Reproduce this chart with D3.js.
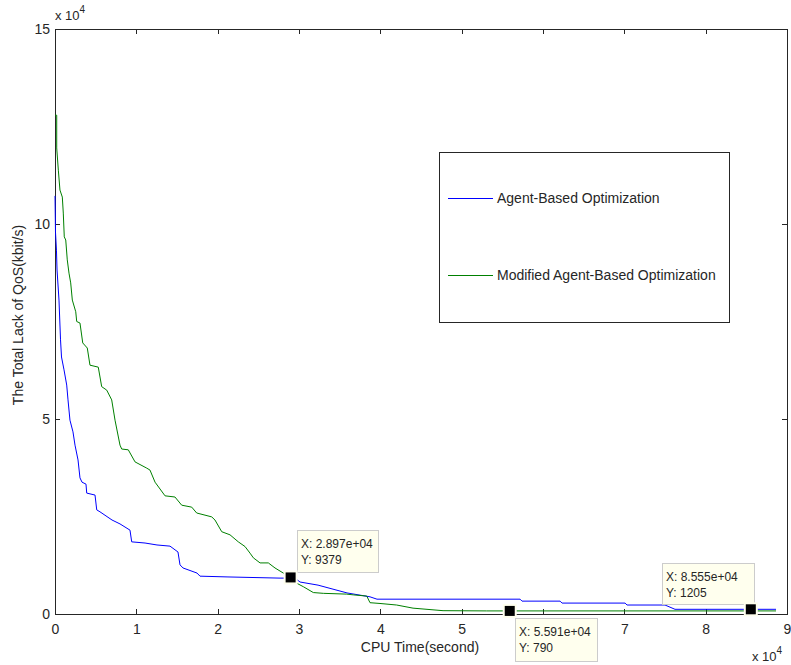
<!DOCTYPE html>
<html><head><meta charset="utf-8">
<script src="https://cdn.jsdelivr.net/npm/d3@7"></script>
<style>body{margin:0;background:#fff}svg{display:block;font-family:"Liberation Sans",Arial,sans-serif}</style>
</head><body><svg id="c" width="791" height="665"></svg>
<script>
// values in units of 1e4
const xTicks = [0,1,2,3,4,5,6,7,8,9];
const xTickLabels = ["0","1","2","3","4","5","","7","8","9"]; // "6" is hidden under a data tip in the original
const yTicks = [0,5,10,15];
const seriesNames = ["Agent-Based Optimization","Modified Agent-Based Optimization"];
const blueX = [0,0.006,0.018,0.025,0.049,0.068,0.080,0.111,0.144,0.160,0.184,0.221,0.246,0.283,0.307,0.332,0.381,0.390,0.492,0.513,0.553,0.701,0.799,0.922,0.943,1.107,1.254,1.414,1.512,1.537,1.574,1.746,1.783,2.127,2.767,2.951,3.013,3.234,3.591,3.873,3.959,5.718,5.742,6.210,6.234,7.009,7.033,7.500,7.623,8.865];
const blueY = [10.72,9.79,9.33,8.82,8.05,7.03,6.59,6.26,5.87,5.49,4.97,4.67,4.33,3.95,3.49,3.38,3.33,3.10,3.05,2.67,2.62,2.41,2.31,2.15,1.85,1.82,1.77,1.74,1.59,1.26,1.18,1.05,0.97,0.95,0.92,0.92,0.82,0.74,0.54,0.44,0.38,0.38,0.33,0.33,0.28,0.28,0.23,0.23,0.1205,0.1205];
const greenX = [0,0.021,0.021,0.041,0.061,0.090,0.102,0.114,0.132,0.151,0.172,0.193,0.213,0.255,0.267,0.307,0.341,0.397,0.430,0.532,0.574,0.636,0.697,0.738,0.799,0.820,0.901,0.984,1.128,1.168,1.230,1.353,1.475,1.558,1.681,1.742,1.927,1.967,2.050,2.152,2.254,2.336,2.398,2.439,2.521,2.623,2.705,2.807,2.897,2.972,3.053,3.176,3.299,3.587,3.668,3.833,3.873,3.996,4.201,4.402,4.771,5.308,5.591,8.865];
const greenY = [12.79,12.79,11.95,11.38,10.87,10.69,10.28,9.67,9.59,9.08,8.74,8.49,8.05,7.75,7.50,7.46,6.95,6.82,6.38,6.33,5.83,5.74,5.49,4.97,4.33,4.23,4.21,3.90,3.74,3.69,3.38,3.03,3.00,2.79,2.74,2.59,2.49,2.41,2.11,2.03,1.85,1.73,1.56,1.44,1.31,1.31,1.18,1.05,0.9379,0.79,0.70,0.55,0.53,0.51,0.49,0.46,0.29,0.27,0.23,0.15,0.085,0.079,0.079,0.079];
const tipX = [2.897,5.591,8.555];
const tipY = [0.9379,0.0790,0.1205];
const tipText = [["X: 2.897e+04","Y: 9379"],["X: 5.591e+04","Y: 790"],["X: 8.555e+04","Y: 1205"]];

const svg = d3.select("#c");
const L=55,R=787,T=29,B=614;
const x = d3.scaleLinear().domain([0,9]).range([L,R]);
const y = d3.scaleLinear().domain([0,15]).range([B,T]);
const ax = "#262626";

svg.append("rect").attr("x",L).attr("y",T).attr("width",R-L).attr("height",B-T).attr("fill","#fff").attr("stroke",ax).attr("stroke-width",1).attr("shape-rendering","crispEdges");

const gx = svg.append("g").attr("transform",`translate(0,${B})`).call(d3.axisBottom(x).tickValues(xTicks).tickSizeInner(-5).tickSizeOuter(0).tickPadding(10).tickFormat((d,i)=>xTickLabels[i]));
const gxt = svg.append("g").attr("transform",`translate(0,${T})`).call(d3.axisTop(x).tickValues(xTicks).tickSizeInner(-5).tickSizeOuter(0).tickFormat(""));
const gy = svg.append("g").attr("transform",`translate(${L},0)`).call(d3.axisLeft(y).tickValues(yTicks).tickSizeInner(-5).tickSizeOuter(0).tickPadding(5).tickFormat(d3.format("d")));
const gyr = svg.append("g").attr("transform",`translate(${R},0)`).call(d3.axisRight(y).tickValues(yTicks).tickSizeInner(-5).tickSizeOuter(0).tickFormat(""));
[gx,gxt,gy,gyr].forEach(g=>{g.select(".domain").remove();g.selectAll("line").attr("stroke",ax).attr("shape-rendering","crispEdges");g.selectAll("text").attr("fill","#262626").attr("font-size",14).attr("font-family","Liberation Sans, Arial, sans-serif");});

const line = d3.line().x(d=>x(d[0])).y(d=>y(d[1]));
svg.append("path").datum(blueX.map((v,i)=>[v,blueY[i]])).attr("d",line).attr("fill","none").attr("stroke","#0000ff").attr("stroke-width",1);
svg.append("path").datum(greenX.map((v,i)=>[v,greenY[i]])).attr("d",line).attr("fill","none").attr("stroke","#008000").attr("stroke-width",1);

function expo(px,py){const t=svg.append("text").attr("x",px).attr("y",py).attr("font-size",13).attr("fill","#262626");t.append("tspan").text("x 10");t.append("tspan").attr("dy",-7).attr("font-size",10).text("4");}
expo(55,20);
expo(752,661);

svg.append("text").attr("x",420).attr("y",652).attr("text-anchor","middle").attr("font-size",14).attr("fill","#262626").text("CPU Time(second)");
svg.append("text").attr("transform","translate(23,315) rotate(-90)").attr("text-anchor","middle").attr("font-size",14).attr("fill","#262626").text("The Total Lack of QoS(kbit/s)");

const lg = svg.append("g");
lg.append("rect").attr("x",439.5).attr("y",152.5).attr("width",290).attr("height",170).attr("fill","#fff").attr("stroke",ax);
const lc=["#0000ff","#008000"], ly=[198,275];
seriesNames.forEach((n,i)=>{
  lg.append("line").attr("x1",448).attr("x2",493).attr("y1",ly[i]+0.5).attr("y2",ly[i]+0.5).attr("stroke",lc[i]);
  lg.append("text").attr("x",497).attr("y",ly[i]+5).attr("font-size",14).attr("fill","#262626").text(n);
});

const boxes=[[297,530,81,42],[515,618,82,43],[662,563,92,41]];
tipX.forEach((v,i)=>{
  const [bx,by,bw,bh]=boxes[i];
  const g=svg.append("g");
  g.append("rect").attr("x",bx+0.5).attr("y",by+0.5).attr("width",bw).attr("height",bh).attr("fill","#ffffee").attr("stroke","#cccccc");
  tipText[i].forEach((t,j)=>g.append("text").attr("x",bx+4).attr("y",by+18+j*16).attr("font-size",12).attr("fill","#262626").text(t));
  svg.append("rect").attr("x",x(v)-6).attr("y",y(tipY[i])-6).attr("width",12).attr("height",12).attr("fill","#000").attr("stroke","#ffffee").attr("stroke-width",2);
});
</script></body></html>
